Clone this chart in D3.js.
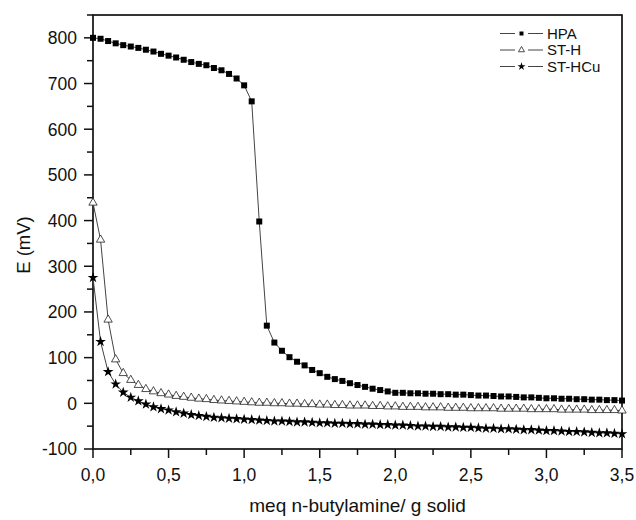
<!DOCTYPE html>
<html><head><meta charset="utf-8">
<script src="https://cdn.jsdelivr.net/npm/d3@7"></script>
<style>body{margin:0;background:#fff}svg{display:block}text{font-family:"Liberation Sans",Arial,sans-serif;fill:#111}</style>
</head><body><svg id="c" width="636" height="520"></svg>
<script>
const xValues = [0,0.05,0.1,0.15,0.2,0.25,0.3,0.35,0.4,0.45,0.5,0.55,0.6,0.65,0.7,0.75,0.8,0.85,0.9,0.95,1.0,1.05,1.1,1.15,1.2,1.25,1.3,1.35,1.4,1.45,1.5,1.55,1.6,1.65,1.7,1.75,1.8,1.85,1.9,1.95,2.0,2.05,2.1,2.15,2.2,2.25,2.3,2.35,2.4,2.45,2.5,2.55,2.6,2.65,2.7,2.75,2.8,2.85,2.9,2.95,3.0,3.05,3.1,3.15,3.2,3.25,3.3,3.35,3.4,3.45,3.5];
const hpa = [800,798,793,788,784,781,778,774,770,765,761,757,752,747,743,740,734,729,721,711,696,661,398,170,133,115,101,91,83,73,66,58,53,49,44,40,36,32,29,26,23,23,22,22,21,21,20,20,19,19,18,17,17,16,15,15,14,13,13,12,11,11,10,10,9,9,8,8,7,7,6];
const stH = [439,358,183,96,66,51,40,31,26,22,19,16,14,12,10,9,7,6,5,4,3,2,1,1,0,0,-1,-1,-2,-2,-3,-3,-4,-4,-5,-5,-5,-6,-6,-7,-7,-8,-8,-8,-9,-9,-9,-10,-10,-10,-11,-11,-11,-11,-12,-12,-12,-12,-13,-13,-13,-13,-14,-14,-14,-14,-15,-15,-15,-15,-16];
const stHCu = [275,135,69,42,24,13,5,-2,-8,-12,-15,-19,-22,-25,-27,-29,-31,-32,-33,-34,-35,-36,-37,-38,-39,-39,-40,-41,-41,-42,-43,-43,-44,-44,-45,-45,-46,-46,-47,-47,-48,-48,-49,-50,-50,-51,-51,-52,-52,-53,-53,-54,-55,-55,-56,-56,-57,-58,-58,-59,-60,-60,-61,-62,-62,-63,-64,-65,-65,-66,-67];
const seriesNames = ["HPA","ST-H","ST-HCu"];
const xTickLabels = ["0,0","0,5","1,0","1,5","2,0","2,5","3,0","3,5"];
const yTicks = [-100,0,100,200,300,400,500,600,700,800];

const svg = d3.select("#c");
const L=93, R=622, T=15, B=449;
const x = d3.scaleLinear().domain([0,3.5]).range([L,R]);
const y = d3.scaleLinear().domain([-100,850]).range([B,T]);

// ticks
const xMinor = d3.range(0,3.51,0.25);
const yMinor = d3.range(-100,851,50);
const gx = svg.append("g").attr("transform",`translate(0,${B})`);
gx.selectAll("line").data(xMinor).join("line").attr("x1",d=>x(d)).attr("x2",d=>x(d)).attr("y1",0).attr("y2",d=>Math.abs(d*2-Math.round(d*2))<1e-6?9:6).attr("stroke","#111").attr("stroke-width",1.5);
gx.selectAll("text").data(xTickLabels).join("text").attr("x",(d,i)=>x(i*0.5)).attr("y",32).attr("text-anchor","middle").attr("font-size",17.5).text(d=>d);
const gy = svg.append("g").attr("transform",`translate(${L},0)`);
gy.selectAll("line").data(yMinor).join("line").attr("y1",d=>y(d)).attr("y2",d=>y(d)).attr("x1",0).attr("x2",d=>d%100===0?-9:-6).attr("stroke","#111").attr("stroke-width",1.5);
gy.selectAll("text").data(yTicks).join("text").attr("x",-16).attr("y",d=>y(d)).attr("dy","0.36em").attr("text-anchor","end").attr("font-size",17.5).text(d=>d);

// frame
svg.append("rect").attr("x",L).attr("y",T).attr("width",R-L).attr("height",B-T).attr("fill","none").attr("stroke","#111").attr("stroke-width",1.7);

// titles
svg.append("text").attr("transform",`translate(30,${(T+B)/2+13}) rotate(-90)`).attr("text-anchor","middle").attr("font-size",18.5).text("E (mV)");
svg.append("text").attr("x",(L+R)/2).attr("y",512).attr("text-anchor","middle").attr("font-size",19).text("meq n-butylamine/ g solid");

const line = d3.line().x(d=>x(d[0])).y(d=>y(d[1]));
const sets = [hpa, stH, stHCu];
const symbols = [d3.symbolSquare, d3.symbolTriangle, d3.symbolStar];
const sizes = [36, 30, 36];
const fills = ["#000","#fff","#000"];
const plot = svg.append("g");
sets.forEach((vals,i)=>{
  const pts = xValues.map((xv,j)=>[xv,vals[j]]);
  plot.append("path").attr("d",line(pts)).attr("fill","none").attr("stroke","#444").attr("stroke-width",1);
});
sets.forEach((vals,i)=>{
  const pts = xValues.map((xv,j)=>[xv,vals[j]]);
  plot.selectAll(null).data(pts).join("path")
    .attr("transform",d=>`translate(${x(d[0])},${y(d[1])})`)
    .attr("d",d3.symbol(symbols[i],sizes[i])())
    .attr("fill",fills[i]).attr("stroke",i===1?"#222":"none").attr("stroke-width",0.8);
});

// legend
const lg = svg.append("g");
seriesNames.forEach((n,i)=>{
  const cy = 33.5 + i*16.5;
  lg.append("line").attr("x1",500).attr("x2",515).attr("y1",cy).attr("y2",cy).attr("stroke","#444").attr("stroke-width",1);
  lg.append("line").attr("x1",528).attr("x2",543).attr("y1",cy).attr("y2",cy).attr("stroke","#444").attr("stroke-width",1);
  lg.append("path").attr("transform",`translate(521.5,${cy})`).attr("d",d3.symbol(symbols[i],[16,16,20][i])()).attr("fill",fills[i]).attr("stroke",i===1?"#222":"none").attr("stroke-width",0.8);
  lg.append("text").attr("x",547).attr("y",cy).attr("dy","0.36em").attr("font-size",15).text(n);
});
</script></body></html>
